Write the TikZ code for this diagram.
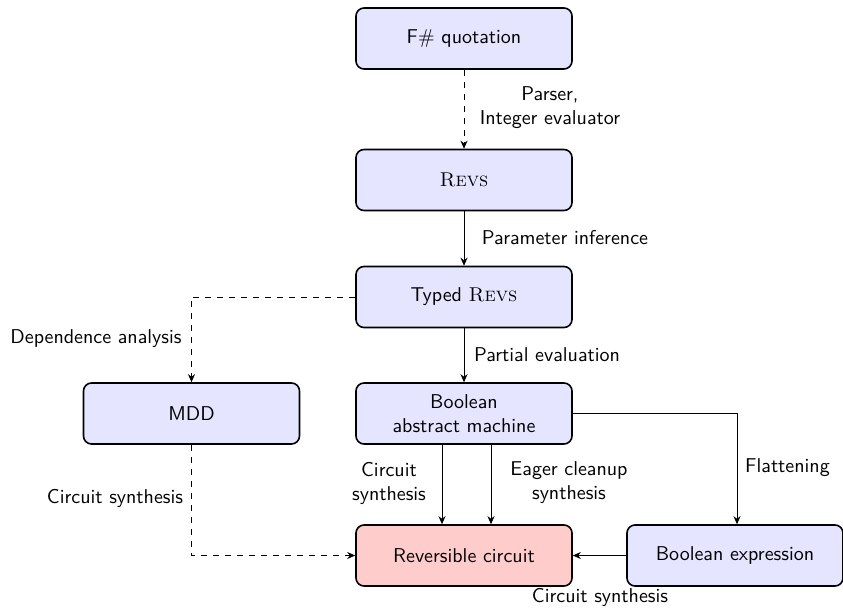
\documentclass[tikz,border=0pt]{standalone}
\usetikzlibrary{arrows.meta}
\begin{document}
\begin{tikzpicture}[x=0.5pt,y=-0.5pt,
  font=\sffamily,
  box/.style={draw,thick,rounded corners=4pt,fill=blue!10,minimum width=108pt,minimum height=30.5pt,align=center,inner sep=2pt},
  outbox/.style={box,fill=red!20},
  edge/.style={thin,-{Stealth[length=4pt,width=3.5pt]}},
  dedge/.style={edge,dashed},
  lab/.style={align=center,inner sep=2pt}]
\useasboundingbox (0,0) rectangle (843,607);
\node[box] (fs) at (464,38.5) {F$\#$ quotation};
\node[box] (revs) at (464,180) {\rmfamily\textsc{Revs}};
\node[box] (typed) at (464,297) {Typed {\rmfamily\textsc{Revs}}};
\node[box] (mdd) at (191.5,413.5) {MDD};
\node[box] (bam) at (464,413.5) {Boolean\\abstract machine};
\node[outbox] (rc) at (464,555.5) {Reversible circuit};
\node[box] (be) at (735,555.5) {Boolean expression};
\coordinate (tl) at (191.5,297);
\coordinate (bl) at (191.5,555.5);
\coordinate (br) at (737,413.5);
\coordinate (b1) at (442,0);
\coordinate (b2) at (491,0);
\draw[dedge] (fs) -- (revs);
\node[lab] (l1) at (550,107.5) {Parser,\\Integer evaluator};
\draw[edge] (revs) -- (typed);
\node[lab] (l2) at (565,238) {Parameter inference};
\draw[dedge] (typed.west) -- (tl) -- (mdd.north);
\node[lab] (l3) at (96,338.5) {Dependence analysis};
\draw[edge] (typed) -- (bam);
\node[lab] (l4) at (547,354.5) {Partial evaluation};
\draw[edge] (bam.south -| b1) -- (rc.north -| b1);
\draw[edge] (bam.south -| b2) -- (rc.north -| b2);
\node[lab] (l5) at (389,483) {Circuit\\synthesis};
\node[lab] (l6) at (569,483) {Eager cleanup\\synthesis};
\draw[edge] (bam.east) -- (br) -- (be.north -| br);
\node[lab] (l7) at (787.5,468) {Flattening};
\draw[edge] (be) -- (rc);
\node[lab] (l8) at (600,597) {Circuit synthesis};
\draw[dedge] (mdd.south) -- (bl) -- (rc.west);
\node[lab] (l9) at (115,498.5) {Circuit synthesis};
\end{tikzpicture}
\end{document}
